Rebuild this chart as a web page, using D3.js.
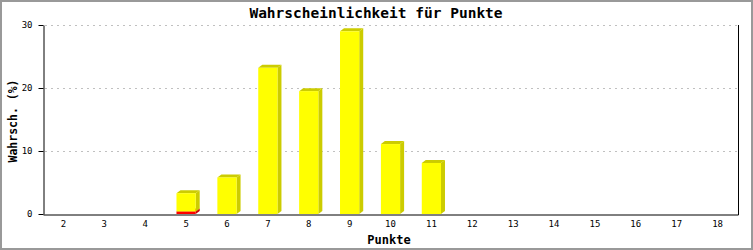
<!DOCTYPE html>
<html>
<head>
<meta charset="utf-8">
<title>Wahrscheinlichkeit für Punkte</title>
<script src="https://cdn.jsdelivr.net/npm/d3@7/dist/d3.min.js"></script>
<style>
  body { margin: 0; background: #fff; }
  text { font-family: "DejaVu Sans Mono", "Liberation Mono", monospace; }
</style>
</head>
<body>
<script>
var categories = ["2","3","4","5","6","7","8","9","10","11","12","13","14","15","16","17","18"];
var redVals    = [0, 0, 0, 0.4, 0, 0, 0, 0, 0, 0, 0, 0, 0, 0, 0, 0, 0];
var yellowVals = [0, 0, 0, 2.9, 5.8, 23.2, 19.5, 29.0, 11.1, 8.1, 0, 0, 0, 0, 0, 0, 0];
var yTicks = [0, 10, 20, 30];

var width = 753, height = 250;
var plotLeft = 43, plotRight = 738, plotTop = 25, plotBottom = 214;
var dx = 4, dy = 3;

var svg = d3.select("body").append("svg")
    .attr("width", width)
    .attr("height", height);

// outer frame
svg.append("rect")
    .attr("x", 1).attr("y", 1)
    .attr("width", width - 2).attr("height", height - 2)
    .attr("fill", "#fff")
    .attr("stroke", "#999")
    .attr("stroke-width", 2);

var x = d3.scaleBand().domain(categories).range([plotLeft, plotRight]).padding(0);
var y = d3.scaleLinear().domain([0, 30]).range([plotBottom, plotTop]);

// grid
svg.append("g").selectAll("line")
    .data(yTicks.filter(function(d){ return d > 0; }))
    .enter().append("line")
    .attr("x1", plotLeft + 2).attr("x2", plotRight)
    .attr("y1", function(d){ return y(d) + 0.5; })
    .attr("y2", function(d){ return y(d) + 0.5; })
    .attr("stroke", "#c0c0c0")
    .attr("stroke-dasharray", "2,4");

// right border
svg.append("line")
    .attr("x1", plotRight + 0.5).attr("x2", plotRight + 0.5)
    .attr("y1", plotTop).attr("y2", plotBottom + 1)
    .attr("stroke", "#000");

// stacked series: red at bottom, yellow on top
var series = [
  { vals: redVals, front: "#ff0000", side: "#cc0000" },
  { vals: yellowVals, front: "#ffff00", side: "#cccc00" }
];
var bw = x.bandwidth() * 0.47;
var base = categories.map(function(){ return 0; });

series.forEach(function(s) {
  var g = svg.append("g");
  categories.forEach(function(c, i) {
    var v = s.vals[i];
    if (v <= 0) return;
    var x0 = x(c) + x.bandwidth() / 2 - bw / 2;
    var x1 = x0 + bw;
    var y0 = y(base[i]);
    var y1 = y(base[i] + v);
    // side
    g.append("path")
      .attr("d", "M" + x1 + "," + y0 + "L" + (x1 + dx) + "," + (y0 - dy) +
                 "L" + (x1 + dx) + "," + (y1 - dy) + "L" + x1 + "," + y1 + "Z")
      .attr("fill", s.side);
    // top
    g.append("path")
      .attr("d", "M" + x0 + "," + y1 + "L" + (x0 + dx) + "," + (y1 - dy) +
                 "L" + (x1 + dx) + "," + (y1 - dy) + "L" + x1 + "," + y1 + "Z")
      .attr("fill", s.side);
    // front
    g.append("rect")
      .attr("x", x0).attr("y", y1)
      .attr("width", bw).attr("height", y0 - y1)
      .attr("fill", s.front);
    base[i] += v;
  });
});

// axes
var yAxis = svg.append("g")
    .attr("transform", "translate(" + (plotLeft + 0.5) + ",0)")
    .call(d3.axisLeft(y).tickValues(yTicks).tickSize(5).tickSizeOuter(0).tickPadding(6)
          .tickFormat(d3.format("d")));
var xAxis = svg.append("g")
    .attr("transform", "translate(0," + (plotBottom + 0.5) + ")")
    .call(d3.axisBottom(x).tickSize(0).tickSizeOuter(0).tickPadding(6));

[yAxis, xAxis].forEach(function(a) {
  a.selectAll("path, line").attr("stroke", "#000");
  a.selectAll("text")
    .attr("fill", "#000")
    .style("font-family", "'DejaVu Sans Mono', monospace")
    .style("font-size", "9px");
});

// titles
svg.append("text")
    .attr("x", 376).attr("y", 18)
    .attr("text-anchor", "middle")
    .style("font-size", "14.5px")
    .style("font-weight", "bold")
    .text("Wahrscheinlichkeit für Punkte");

svg.append("text")
    .attr("x", 389).attr("y", 244)
    .attr("text-anchor", "middle")
    .style("font-size", "12px")
    .style("font-weight", "bold")
    .text("Punkte");

svg.append("text")
    .attr("transform", "translate(17,121) rotate(-90)")
    .attr("text-anchor", "middle")
    .style("font-size", "11.5px")
    .style("font-weight", "bold")
    .text("Wahrsch. (%)");
</script>
</body>
</html>
